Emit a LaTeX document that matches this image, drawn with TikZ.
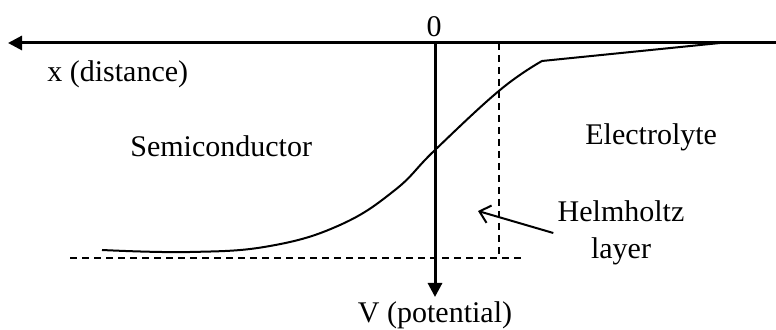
\documentclass[tikz,border=0pt]{standalone}
\usepackage{fontspec}
\setmainfont{Liberation Serif}
\usetikzlibrary{arrows.meta,positioning}
\tikzset{
    axis/.style={
        line width=1.5pt,
        -{Triangle[length=7pt,width=7pt]}
    },
    curve/.style={
        line width=1pt
    },
    guide/.style={
        line width=0.9pt,
        dash pattern=on 3.5pt off 2.5pt
    },
    pointer/.style={
        line width=1pt,
        -{Straight Barb[length=5pt,width=9pt]}
    },
    lbl/.style={
        inner sep=0pt,
        font=\fontsize{15}{18.5}\selectfont
    }
}
\begin{document}
\begin{tikzpicture}[x=0.5pt,y=-0.5pt]

\useasboundingbox (0,0) rectangle (776,330);

% axes
\coordinate (xtail) at (776,43);
\coordinate (xtip) at (8,43);
\coordinate (origin) at (435,43);
\coordinate (vtip) at (435,297);

\draw[axis] (xtail) -- (xtip);
\draw[axis] (origin) -- (vtip);

% Helmholtz plane and reference level
\coordinate (ohp) at (499,43);
\coordinate (ohpfoot) at (499,258);
\coordinate (levl) at (70,258);
\coordinate (levr) at (523,258);

\draw[guide] (ohp) -- (ohpfoot);
\draw[guide] (levl) -- (levr);

% potential profile
\coordinate (kink) at (542,61);
\coordinate (flat) at (720,43);
\draw[curve] plot[smooth, tension=0.7] coordinates {
    (102,250) (190,252) (270,246) (340,225)
    (395,190) (435,150) (500,90) (kink)}
    -- (flat);

% labels
\node[lbl, anchor=base] (zero) at (434,37) {0};
\node[lbl, anchor=base west] (xlab) at (47,82) {x (distance)};
\node[lbl, anchor=base] (vlab) at (435,323) {V (potential)};
\node[lbl, anchor=base west] (semi) at (130,157) {Semiconductor};
\node[lbl, anchor=base west] (elec) at (585,145) {Electrolyte};
\node[lbl, align=center, inner sep=2pt] (helm) at (621,233) {Helmholtz\\layer};

\coordinate (hlayer) at (478,211);
\draw[pointer] (helm.west) -- (hlayer);

\end{tikzpicture}
\end{document}
